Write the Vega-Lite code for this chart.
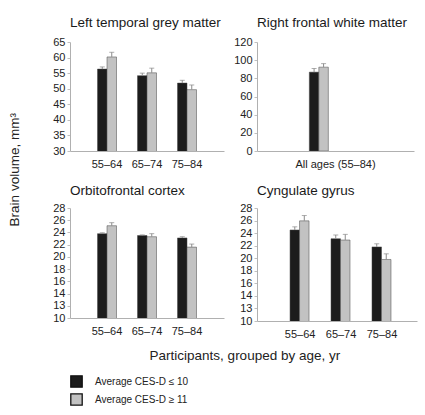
{
  "$schema": "https://vega.github.io/schema/vega-lite/v6.json",
  "padding": {"left": 8, "top": 15, "right": 2, "bottom": 4},
  "background": "white",
  "datasets": {
    "brain": [
      {"region": "Left temporal grey matter", "age": "55–64", "cesd": "Average CES-D ≤ 10", "volume": 56.3, "upper": 57.0},
      {"region": "Left temporal grey matter", "age": "55–64", "cesd": "Average CES-D ≥ 11", "volume": 60.2, "upper": 61.7},
      {"region": "Left temporal grey matter", "age": "65–74", "cesd": "Average CES-D ≤ 10", "volume": 54.2, "upper": 55.0},
      {"region": "Left temporal grey matter", "age": "65–74", "cesd": "Average CES-D ≥ 11", "volume": 55.1, "upper": 56.6},
      {"region": "Left temporal grey matter", "age": "75–84", "cesd": "Average CES-D ≤ 10", "volume": 51.8, "upper": 52.7},
      {"region": "Left temporal grey matter", "age": "75–84", "cesd": "Average CES-D ≥ 11", "volume": 49.7, "upper": 51.2},
      {"region": "Right frontal white matter", "age": "All ages (55–84)", "cesd": "Average CES-D ≤ 10", "volume": 86.8, "upper": 90.8},
      {"region": "Right frontal white matter", "age": "All ages (55–84)", "cesd": "Average CES-D ≥ 11", "volume": 92.3, "upper": 96.2},
      {"region": "Orbitofrontal cortex", "age": "55–64", "cesd": "Average CES-D ≤ 10", "volume": 23.8, "upper": 23.95},
      {"region": "Orbitofrontal cortex", "age": "55–64", "cesd": "Average CES-D ≥ 11", "volume": 25.1, "upper": 25.6},
      {"region": "Orbitofrontal cortex", "age": "65–74", "cesd": "Average CES-D ≤ 10", "volume": 23.5, "upper": 23.6},
      {"region": "Orbitofrontal cortex", "age": "65–74", "cesd": "Average CES-D ≥ 11", "volume": 23.3, "upper": 23.8},
      {"region": "Orbitofrontal cortex", "age": "75–84", "cesd": "Average CES-D ≤ 10", "volume": 23.1, "upper": 23.3},
      {"region": "Orbitofrontal cortex", "age": "75–84", "cesd": "Average CES-D ≥ 11", "volume": 21.6, "upper": 22.1},
      {"region": "Cyngulate gyrus", "age": "55–64", "cesd": "Average CES-D ≤ 10", "volume": 24.5, "upper": 25.0},
      {"region": "Cyngulate gyrus", "age": "55–64", "cesd": "Average CES-D ≥ 11", "volume": 25.95, "upper": 26.8},
      {"region": "Cyngulate gyrus", "age": "65–74", "cesd": "Average CES-D ≤ 10", "volume": 23.1, "upper": 23.7},
      {"region": "Cyngulate gyrus", "age": "65–74", "cesd": "Average CES-D ≥ 11", "volume": 22.9, "upper": 23.8},
      {"region": "Cyngulate gyrus", "age": "75–84", "cesd": "Average CES-D ≤ 10", "volume": 21.8, "upper": 22.3},
      {"region": "Cyngulate gyrus", "age": "75–84", "cesd": "Average CES-D ≥ 11", "volume": 19.8, "upper": 20.7}
    ]
  },
  "title": {"text": "Brain volume, mm³", "orient": "left", "anchor": "middle", "frame": "bounds", "fontSize": 13.5, "font": "Liberation Sans", "fontWeight": "normal", "color": "#222", "offset": 31, "dx": 42},
  "vconcat": [
    {
      "bounds": "flush",
      "spacing": 33,
      "hconcat": [
        {
          "title": {"text": "Left temporal grey matter"},
          "width": 154, "height": 109,
          "data": {"name": "brain"},
          "transform": [{"filter": "datum.region === 'Left temporal grey matter'"}],
          "encoding": {
            "x": {"field": "age", "type": "nominal", "sort": null, "title": null, "scale": {"paddingInner": 0.525, "paddingOuter": 0.6875}},
            "xOffset": {"field": "cesd", "type": "nominal"},
            "y": {"field": "volume", "type": "quantitative", "title": null, "scale": {"domain": [30, 65], "nice": false, "zero": false}, "axis": {"values": [30, 35, 40, 45, 50, 55, 60, 65]}}
          },
          "layer": [
            {"mark": {"type": "bar", "stroke": "#444", "strokeWidth": 0.5, "clip": true}, "encoding": {"color": {"field": "cesd", "type": "nominal", "title": null}}},
            {"mark": {"type": "rule", "color": "#8a8a8a", "strokeWidth": 1}, "encoding": {"y2": {"field": "upper"}}},
            {"mark": {"type": "tick", "color": "#8a8a8a", "size": 5, "thickness": 1}, "encoding": {"y": {"field": "upper", "type": "quantitative"}}}
          ]
        },
        {
          "title": {"text": "Right frontal white matter"},
          "width": 157, "height": 109,
          "data": {"name": "brain"},
          "transform": [{"filter": "datum.region === 'Right frontal white matter'"}],
          "encoding": {
            "x": {"field": "age", "type": "nominal", "sort": null, "title": null, "scale": {"paddingInner": 0, "paddingOuter": 1.566}},
            "xOffset": {"field": "cesd", "type": "nominal"},
            "y": {"field": "volume", "type": "quantitative", "title": null, "scale": {"domain": [0, 120], "nice": false}, "axis": {"values": [0, 20, 40, 60, 80, 100, 120]}}
          },
          "layer": [
            {"mark": {"type": "bar", "stroke": "#444", "strokeWidth": 0.5, "clip": true}, "encoding": {"color": {"field": "cesd", "type": "nominal", "title": null}}},
            {"mark": {"type": "rule", "color": "#8a8a8a", "strokeWidth": 1}, "encoding": {"y2": {"field": "upper"}}},
            {"mark": {"type": "tick", "color": "#8a8a8a", "size": 5, "thickness": 1}, "encoding": {"y": {"field": "upper", "type": "quantitative"}}}
          ]
        }
      ]
    },
    {
      "title": {"text": "Participants, grouped by age, yr", "orient": "bottom", "anchor": "middle", "frame": "bounds", "fontSize": 13.5, "font": "Liberation Sans", "fontWeight": "normal", "color": "#222", "offset": 10, "dx": 10},
      "bounds": "flush",
      "spacing": 33,
      "hconcat": [
        {
          "title": {"text": "Orbitofrontal cortex", "offset": 5},
          "width": 154, "height": 110,
          "data": {"name": "brain"},
          "transform": [{"filter": "datum.region === 'Orbitofrontal cortex'"}],
          "encoding": {
            "x": {"field": "age", "type": "nominal", "sort": null, "title": null, "scale": {"paddingInner": 0.525, "paddingOuter": 0.6875}},
            "xOffset": {"field": "cesd", "type": "nominal"},
            "y": {"field": "volume", "type": "quantitative", "title": null, "scale": {"domain": [10, 28], "nice": false, "zero": false}, "axis": {"values": [10, 12, 14, 16, 18, 20, 22, 24, 26, 28], "labelExpr": "datum.value === 12 ? '13' : datum.label"}}
          },
          "layer": [
            {"mark": {"type": "bar", "stroke": "#444", "strokeWidth": 0.5, "clip": true}, "encoding": {"color": {"field": "cesd", "type": "nominal", "title": null}}},
            {"mark": {"type": "rule", "color": "#8a8a8a", "strokeWidth": 1}, "encoding": {"y2": {"field": "upper"}}},
            {"mark": {"type": "tick", "color": "#8a8a8a", "size": 5, "thickness": 1}, "encoding": {"y": {"field": "upper", "type": "quantitative"}}}
          ]
        },
        {
          "title": {"text": "Cyngulate gyrus", "offset": 5},
          "width": 160, "height": 113,
          "data": {"name": "brain"},
          "transform": [{"filter": "datum.region === 'Cyngulate gyrus'"}],
          "encoding": {
            "x": {"field": "age", "type": "nominal", "sort": null, "title": null, "scale": {"paddingInner": 0.51, "paddingOuter": 0.707, "align": 0.57}},
            "xOffset": {"field": "cesd", "type": "nominal"},
            "y": {"field": "volume", "type": "quantitative", "title": null, "scale": {"domain": [10, 28], "nice": false, "zero": false}, "axis": {"values": [10, 12, 14, 16, 18, 20, 22, 24, 26, 28], "labelExpr": "datum.value === 12 ? '13' : datum.label"}}
          },
          "layer": [
            {"mark": {"type": "bar", "stroke": "#444", "strokeWidth": 0.5, "clip": true}, "encoding": {"color": {"field": "cesd", "type": "nominal", "title": null}}},
            {"mark": {"type": "rule", "color": "#8a8a8a", "strokeWidth": 1}, "encoding": {"y2": {"field": "upper"}}},
            {"mark": {"type": "tick", "color": "#8a8a8a", "size": 5, "thickness": 1}, "encoding": {"y": {"field": "upper", "type": "quantitative"}}}
          ]
        }
      ]
    }
  ],
  "spacing": 14,
  "resolve": {"scale": {"color": "shared"}},
  "config": {
    "font": "Liberation Sans",
    "view": {"stroke": null},
    "range": {"category": ["#1c1c1c", "#c2c2c2"]},
    "title": {"font": "Liberation Sans", "fontSize": 13.5, "fontWeight": "normal", "color": "#1a1a1a", "anchor": "start", "frame": "group", "offset": 7},
    "axis": {"grid": false, "domainColor": "#b0b0b0", "tickColor": "#c0c0c0", "tickSize": 3, "labelFont": "Liberation Sans", "labelFontSize": 11, "labelColor": "#222", "labelPadding": 2},
    "axisX": {"ticks": false, "labelAngle": 0, "labelPadding": 7},
    "legend": {"orient": "bottom", "direction": "vertical", "symbolType": "square", "symbolSize": 130, "symbolStrokeColor": "#111", "symbolStrokeWidth": 1.3, "symbolOpacity": 1, "labelFont": "Liberation Sans", "labelFontSize": 10, "labelColor": "#222", "labelOffset": 12, "rowPadding": 1, "offset": 12, "padding": 0}
  }
}
